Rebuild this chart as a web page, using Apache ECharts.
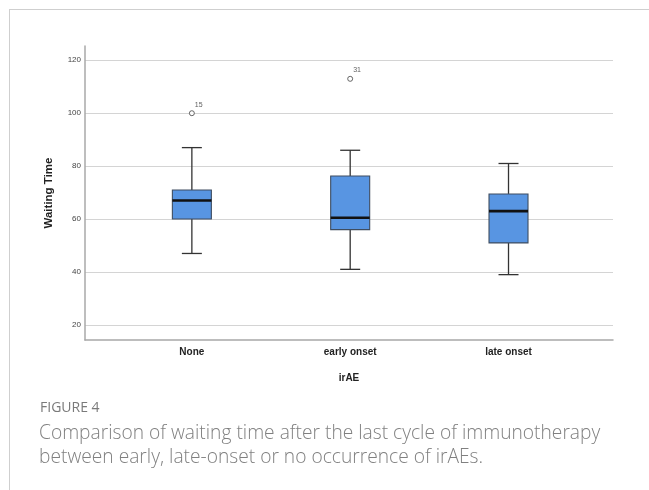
<!DOCTYPE html>
<html lang="en">
<head>
    <meta charset="UTF-8">
    <title>Figure 4</title>
    <style>
        html, body { margin: 0; padding: 0; background: #fff; }
        .frame { position: absolute; left: 9px; top: 9px; width: 640px; height: 481px;
                 border-top: 1.5px solid #cfcfcf; border-left: 1.5px solid #cfcfcf; }
        #chart { position: absolute; left: 0; top: 0; width: 649px; height: 490px; }
    </style>
</head>
<body>
    <div class="frame"></div>
    <div id="chart"></div>

    <script src="https://cdn.jsdelivr.net/npm/echarts@6/dist/echarts.min.js"></script>
    <script>
        // 分组与箱线数据
        const categories = ['None', 'early onset', 'late onset'];
        const lowerWhisker = [47, 41, 39];
        const q1 = [60, 56, 51];
        const median = [67, 60.5, 63];
        const q3 = [71, 76.3, 69.5];
        const upperWhisker = [87, 86, 81];
        // 离群点: [组序号, 数值, 病例编号]
        const outliers = [[0, 100, '15'], [1, 113, '31']];
        const yTicks = [20, 40, 60, 80, 100, 120];

        const boxData = categories.map((c, i) =>
            [i, lowerWhisker[i], q1[i], median[i], q3[i], upperWhisker[i]]);

        const chart = echarts.init(document.getElementById('chart'));

        function renderBox(params, api) {
            const x = api.value(0);
            const pLow = api.coord([x, api.value(1)]);
            const pQ1 = api.coord([x, api.value(2)]);
            const pMed = api.coord([x, api.value(3)]);
            const pQ3 = api.coord([x, api.value(4)]);
            const pHigh = api.coord([x, api.value(5)]);
            const cx = pMed[0];
            const half = 19.5, cap = 10;
            const lineStyle = { stroke: '#333', lineWidth: 1.3 };
            return {
                type: 'group',
                children: [
                    { type: 'line', shape: { x1: cx, y1: pHigh[1], x2: cx, y2: pQ3[1] }, style: lineStyle },
                    { type: 'line', shape: { x1: cx, y1: pLow[1], x2: cx, y2: pQ1[1] }, style: lineStyle },
                    { type: 'line', shape: { x1: cx - cap, y1: pHigh[1], x2: cx + cap, y2: pHigh[1] }, style: lineStyle },
                    { type: 'line', shape: { x1: cx - cap, y1: pLow[1], x2: cx + cap, y2: pLow[1] }, style: lineStyle },
                    {
                        type: 'rect',
                        shape: { x: cx - half, y: pQ3[1], width: half * 2, height: pQ1[1] - pQ3[1] },
                        style: { fill: '#5895e2', stroke: '#3f4d60', lineWidth: 1.1 }
                    },
                    { type: 'line', shape: { x1: cx - half, y1: pMed[1], x2: cx + half, y2: pMed[1] },
                      style: { stroke: '#111', lineWidth: 2.6 } }
                ]
            };
        }

        chart.setOption({
            animation: false,
            textStyle: { fontFamily: 'Liberation Sans, Arial, sans-serif' },
            grid: { left: 85, right: 36, top: 46, bottom: 150 },
            xAxis: {
                type: 'value',
                min: -0.675,
                max: 2.66,
                name: 'irAE',
                nameLocation: 'middle',
                nameGap: 33,
                nameTextStyle: { color: '#222', fontSize: 10, fontWeight: 'bold' },
                axisLine: { show: true, onZero: false, lineStyle: { color: '#a8a8a8', width: 1.5 } },
                axisTick: { show: false, customValues: [0, 1, 2] },
                splitLine: { show: false },
                axisLabel: {
                    customValues: [0, 1, 2],
                    formatter: v => categories[v] || '',
                    color: '#222',
                    fontSize: 10,
                    fontWeight: 'bold',
                    margin: 7
                }
            },
            yAxis: {
                type: 'value',
                min: 14.3,
                max: 125.4,
                name: 'Waiting Time',
                nameLocation: 'middle',
                nameGap: 30,
                nameTextStyle: { color: '#222', fontSize: 11.5, fontWeight: 'bold' },
                axisLine: { show: true, onZero: false, lineStyle: { color: '#a8a8a8', width: 1.5 } },
                axisTick: { show: false, customValues: yTicks },
                splitLine: { show: true, lineStyle: { color: '#d4d4d4', width: 1.2 } },
                axisLabel: { customValues: yTicks, color: '#444', fontSize: 8, margin: 4 }
            },
            series: [
                {
                    type: 'custom',
                    renderItem: renderBox,
                    data: boxData,
                    encode: { x: 0, y: [1, 2, 3, 4, 5] },
                    z: 3
                },
                {
                    type: 'scatter',
                    data: outliers,
                    symbol: 'circle',
                    symbolSize: 5,
                    itemStyle: { color: '#fff', borderColor: '#444', borderWidth: 1 },
                    label: {
                        show: true,
                        formatter: p => p.data[2],
                        position: [6, -9],
                        fontSize: 7,
                        color: '#333'
                    },
                    z: 4
                }
            ],
            graphic: [
                {
                    type: 'text', left: 40, top: 401,
                    style: { text: 'FIGURE 4', fill: '#7a7a7a', font: '14px "Open Sans", sans-serif' }
                },
                {
                    type: 'text', left: 39, top: 422,
                    style: {
                        text: 'Comparison of waiting time after the last cycle of immunotherapy\nbetween early, late-onset or no occurrence of irAEs.',
                        fill: '#808080',
                        font: '300 19.2px "Open Sans", sans-serif',
                        lineHeight: 24
                    }
                }
            ]
        });
    </script>
</body>
</html>
